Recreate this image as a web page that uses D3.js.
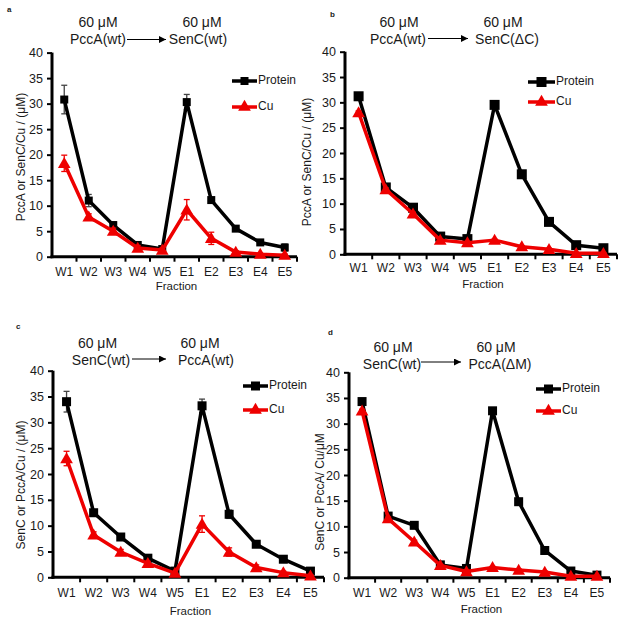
<!DOCTYPE html>
<html>
<head>
<meta charset="utf-8">
<script src="https://cdn.jsdelivr.net/npm/d3@7"></script>
<style>
  html, body { margin: 0; padding: 0; background: #fff; }
  svg { display: block; font-family: "Liberation Sans", Arial, sans-serif; }
</style>
</head>
<body>
<svg id="chart" width="626" height="623"></svg>
<script>
// ---------------- DATA ----------------
const fractions = ["W1", "W2", "W3", "W4", "W5", "E1", "E2", "E3", "E4", "E5"];
const yTicks = [0, 5, 10, 15, 20, 25, 30, 35, 40];
const seriesNames = ["Protein", "Cu"];

// Panel a: PccA(wt) -> SenC(wt)
const aProtein    = [30.8, 11.0, 6.2, 2.3, 1.5, 30.3, 11.1, 5.5, 2.8, 1.8];
const aProteinErr = [2.8, 1.2, 0.6, 0.3, 0.2, 1.5, 0.4, 0.5, 0.3, 0.7];
const aCu         = [18.3, 7.8, 5.0, 1.7, 1.3, 9.2, 3.6, 0.9, 0.5, 0.3];
const aCuErr      = [1.6, 0.6, 0.6, 0.5, 0.4, 2.0, 1.2, 0.3, 0.2, 0.2];

// Panel b: PccA(wt) -> SenC(ΔC)
const bProtein    = [31.2, 13.2, 9.2, 3.5, 3.0, 29.5, 15.8, 6.4, 1.8, 1.2];
const bProteinErr = [0.3, 0.3, 0.3, 0.2, 0.2, 0.3, 0.3, 0.2, 0.2, 0.2];
const bCu         = [28.0, 12.8, 8.0, 2.8, 2.3, 2.8, 1.5, 1.0, 0.2, 0.2];
const bCuErr      = [0.3, 0.3, 0.3, 0.2, 0.2, 0.2, 0.2, 0.2, 0.1, 0.1];

// Panel c: SenC(wt) -> PccA(wt)
const cProtein    = [34.0, 12.5, 7.8, 3.7, 1.2, 33.2, 12.2, 6.4, 3.5, 1.2];
const cProteinErr = [2.0, 0.5, 0.4, 0.3, 0.2, 1.3, 0.8, 0.3, 0.3, 0.2];
const cCu         = [23.0, 8.2, 4.9, 2.7, 0.8, 10.3, 4.9, 1.9, 0.9, 0.3];
const cCuErr      = [1.4, 0.6, 0.5, 0.4, 0.2, 1.6, 0.8, 0.5, 0.3, 0.2];

// Panel d: SenC(wt) -> PccA(ΔM)
const dProtein    = [34.3, 12.0, 10.2, 2.5, 1.8, 32.5, 14.8, 5.3, 1.3, 0.5];
const dProteinErr = [0.3, 0.3, 0.3, 0.2, 0.2, 0.3, 0.3, 0.2, 0.2, 0.1];
const dCu         = [32.5, 11.5, 7.0, 2.4, 1.2, 2.0, 1.5, 1.1, 0.3, 0.3];
const dCuErr      = [0.3, 0.3, 0.3, 0.2, 0.2, 0.2, 0.2, 0.2, 0.1, 0.1];

// Titles / labels
const panelLetters = ["a", "b", "c", "d"];
const fromLabels = ["PccA(wt)", "PccA(wt)", "SenC(wt)", "SenC(wt)"];
const toLabels   = ["SenC(wt)", "SenC(ΔC)", "PccA(wt)", "PccA(ΔM)"];
const concLabel  = "60 μM";
const yLabels = ["PccA or SenC/Cu / (μM)", "PccA or SenC/Cu / (μM)",
                 "SenC or PccA/Cu / (μM)", "SenC or PccA/ Cu/μM"];
const xLabel = "Fraction";

// ---------------- LAYOUT ----------------
const panels = [
  { letter: [7, 12], x0: 52, x1: 297, y0: 256.7, y40: 52.6, ylabX: 22, ylabY: 157,
    tickLabY: 276, fracY: 290, sq: 8,
    from: { cx: 98, y1: 27, y2: 44, cx2: 98 }, to: { cx: 202, cx2: 198 }, arrow: [127, 166, 39.5],
    leg: { x0: 232, x1: 257, y1: 81, y2: 107 },
    prot: aProtein, protErr: aProteinErr, cu: aCu, cuErr: aCuErr },
  { letter: [330, 17], x0: 345, x1: 617, y0: 254.3, y40: 51.7, ylabX: 308, ylabY: 162,
    tickLabY: 272, fracY: 288, sq: 10,
    from: { cx: 399, y1: 27, y2: 44, cx2: 398 }, to: { cx: 503, cx2: 507 }, arrow: [428, 468, 38.5],
    leg: { x0: 528, x1: 555, y1: 82, y2: 102 },
    prot: bProtein, protErr: bProteinErr, cu: bCu, cuErr: bCuErr },
  { letter: [16, 329], x0: 53, x1: 324, y0: 577.3, y40: 370.7, ylabX: 22, ylabY: 485,
    tickLabY: 597, fracY: 615, sq: 9,
    from: { cx: 97.5, y1: 348, y2: 364.5, cx2: 101 }, to: { cx: 200, cx2: 206 }, arrow: [132, 166, 359],
    leg: { x0: 243, x1: 268, y1: 386, y2: 410 },
    prot: cProtein, protErr: cProteinErr, cu: cCu, cuErr: cCuErr },
  { letter: [328, 335], x0: 349, x1: 610, y0: 577.7, y40: 372.3, ylabX: 321, ylabY: 492,
    tickLabY: 597, fracY: 613, sq: 9,
    from: { cx: 393, y1: 352, y2: 369, cx2: 392 }, to: { cx: 496, cx2: 500 }, arrow: [421, 461, 362],
    leg: { x0: 536, x1: 561, y1: 389, y2: 411 },
    prot: dProtein, protErr: dProteinErr, cu: dCu, cuErr: dCuErr }
];

const BLACK = "#000";
const RED = "#ee0000";
const TEXT = "#1a1a1a";

const svg = d3.select("#chart");
const defs = svg.append("defs");
defs.append("marker").attr("id", "arrowhead")
  .attr("viewBox", "0 0 10 10").attr("refX", 10).attr("refY", 5)
  .attr("markerWidth", 7).attr("markerHeight", 7).attr("markerUnits", "userSpaceOnUse")
  .attr("orient", "auto")
  .append("path").attr("d", "M0,0 L10,5 L0,10 z").attr("fill", "#000");

const triangle = d3.symbol().type(d3.symbolTriangle).size(70);

panels.forEach((p, i) => {
  const g = svg.append("g");
  const x = d3.scaleBand().domain(fractions).range([p.x0, p.x1]).padding(0);
  const y = d3.scaleLinear().domain([0, 40]).range([p.y0, p.y40]);

  // panel letter
  g.append("text").attr("x", p.letter[0]).attr("y", p.letter[1])
    .attr("font-size", 8).attr("font-weight", "bold").attr("fill", TEXT).text(panelLetters[i]);

  // titles
  const tf = g.append("g").attr("font-size", 14).attr("fill", TEXT).attr("text-anchor", "middle");
  tf.append("text").attr("x", p.from.cx).attr("y", p.from.y1).text(concLabel);
  tf.append("text").attr("x", p.from.cx2).attr("y", p.from.y2).text(fromLabels[i]);
  tf.append("text").attr("x", p.to.cx).attr("y", p.from.y1).text(concLabel);
  tf.append("text").attr("x", p.to.cx2).attr("y", p.from.y2).text(toLabels[i]);
  g.append("line").attr("x1", p.arrow[0]).attr("x2", p.arrow[1])
    .attr("y1", p.arrow[2]).attr("y2", p.arrow[2])
    .attr("stroke", "#000").attr("stroke-width", 1).attr("marker-end", "url(#arrowhead)");

  // y axis
  const yAxis = d3.axisLeft(y).tickValues(yTicks).tickSize(5).tickPadding(4);
  const ya = g.append("g").attr("transform", `translate(${p.x0},0)`).call(yAxis);
  ya.select(".domain").attr("stroke", "#000").attr("stroke-width", 3)
    .attr("d", `M0,${p.y40}V${p.y0 + 1.5}`);
  ya.selectAll(".tick line").attr("stroke", "#000").attr("stroke-width", 2);
  ya.selectAll(".tick text").attr("font-size", 12.5).attr("fill", TEXT)
    .attr("font-family", "Liberation Sans, Arial, sans-serif");

  // x axis (labels centered, ticks at band boundaries)
  const xAxis = d3.axisBottom(x).tickSize(0).tickPadding(0);
  const xa = g.append("g").attr("transform", `translate(0,${p.y0})`).call(xAxis);
  xa.select(".domain").attr("stroke", "#000").attr("stroke-width", 3)
    .attr("d", `M${p.x0 - 1.5},0H${p.x1}`);
  xa.selectAll(".tick text").attr("font-size", 12).attr("fill", TEXT)
    .attr("dy", null).attr("y", p.tickLabY - p.y0)
    .attr("font-family", "Liberation Sans, Arial, sans-serif");
  const bounds = fractions.map(f => x(f) + x.bandwidth());
  g.append("g").selectAll("line").data(bounds).join("line")
    .attr("x1", d => d).attr("x2", d => d)
    .attr("y1", p.y0).attr("y2", p.y0 + 5)
    .attr("stroke", "#000").attr("stroke-width", 2);

  // axis titles
  g.append("text").attr("transform", `translate(${p.ylabX},${p.ylabY}) rotate(-90)`)
    .attr("text-anchor", "middle").attr("dominant-baseline", "middle")
    .attr("font-size", 12).attr("fill", TEXT).text(yLabels[i]);
  g.append("text").attr("x", (p.x0 + p.x1) / 2 + 2).attr("y", p.fracY)
    .attr("text-anchor", "middle").attr("font-size", 11.5).attr("fill", TEXT).text(xLabel);

  const cx = f => x(f) + x.bandwidth() / 2;
  const line = d3.line().x((d, j) => cx(fractions[j])).y(d => y(d));

  const series = [
    { vals: p.prot, err: p.protErr, color: BLACK, errColor: "#444", kind: "sq" },
    { vals: p.cu, err: p.cuErr, color: RED, errColor: RED, kind: "tri" }
  ];

  series.forEach(s => {
    const sg = g.append("g");
    // error bars
    const eg = sg.append("g").attr("stroke", s.errColor).attr("stroke-width", 1.3);
    s.vals.forEach((v, j) => {
      const e = s.err[j];
      const xc = cx(fractions[j]);
      eg.append("line").attr("x1", xc).attr("x2", xc).attr("y1", y(v - e)).attr("y2", y(v + e));
      eg.append("line").attr("x1", xc - 3).attr("x2", xc + 3).attr("y1", y(v + e)).attr("y2", y(v + e));
      eg.append("line").attr("x1", xc - 3).attr("x2", xc + 3).attr("y1", y(v - e)).attr("y2", y(v - e));
    });
    sg.append("path").datum(s.vals).attr("d", line)
      .attr("fill", "none").attr("stroke", s.color).attr("stroke-width", 3.5)
      .attr("stroke-linejoin", "round");
    if (s.kind === "sq") {
      sg.selectAll("rect").data(s.vals).join("rect")
        .attr("x", (d, j) => cx(fractions[j]) - p.sq / 2)
        .attr("y", d => y(d) - p.sq / 2)
        .attr("width", p.sq).attr("height", p.sq).attr("fill", s.color);
    } else {
      sg.selectAll("path.m").data(s.vals).join("path").attr("class", "m")
        .attr("d", triangle)
        .attr("transform", (d, j) => `translate(${cx(fractions[j])},${y(d) + 1})`)
        .attr("fill", s.color);
    }
  });

  // legend
  const lg = g.append("g");
  const lm = (p.leg.x0 + p.leg.x1) / 2;
  lg.append("line").attr("x1", p.leg.x0).attr("x2", p.leg.x1).attr("y1", p.leg.y1).attr("y2", p.leg.y1)
    .attr("stroke", BLACK).attr("stroke-width", 3.5);
  lg.append("rect").attr("x", lm - p.sq / 2).attr("y", p.leg.y1 - p.sq / 2)
    .attr("width", p.sq).attr("height", p.sq).attr("fill", BLACK);
  lg.append("text").attr("x", p.leg.x1 + 1).attr("y", p.leg.y1).attr("dominant-baseline", "middle")
    .attr("font-size", 12).attr("fill", TEXT).text(seriesNames[0]);
  lg.append("line").attr("x1", p.leg.x0).attr("x2", p.leg.x1).attr("y1", p.leg.y2).attr("y2", p.leg.y2)
    .attr("stroke", RED).attr("stroke-width", 3.5);
  lg.append("path").attr("d", triangle).attr("transform", `translate(${lm},${p.leg.y2})`).attr("fill", RED);
  lg.append("text").attr("x", p.leg.x1 + 1).attr("y", p.leg.y2).attr("dominant-baseline", "middle")
    .attr("font-size", 12).attr("fill", TEXT).text(seriesNames[1]);
});
</script>
</body>
</html>
